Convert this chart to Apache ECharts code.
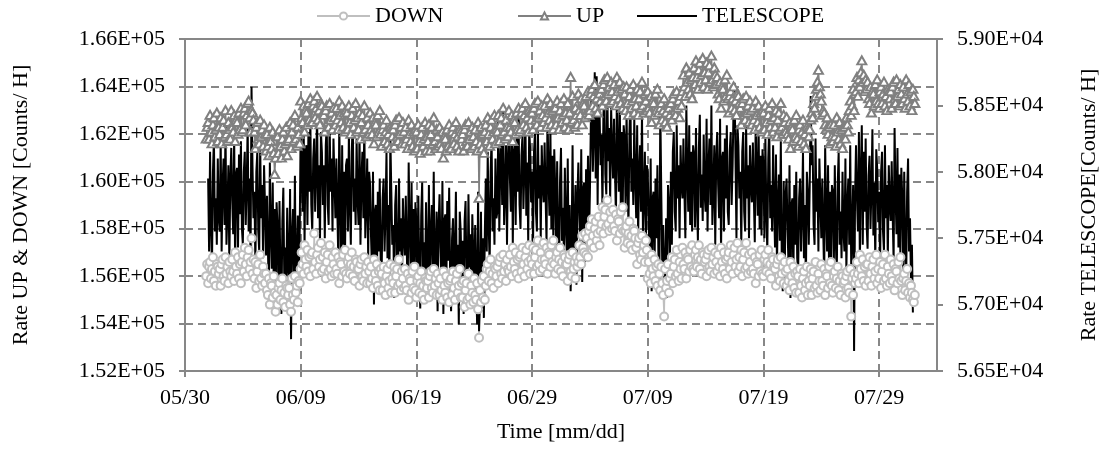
<!DOCTYPE html>
<html>
<head>
<meta charset="utf-8">
<script src="https://cdn.jsdelivr.net/npm/echarts@6/dist/echarts.min.js"></script>
<style>
  body { margin: 0; background: #fff; }
  #chart { width: 1101px; height: 450px; }
</style>
</head>
<body>
<div id="chart"></div>
<script>
// readings every 2 h, first one at 05/31 20:00 (x = days after 05/30)
const firstDay = 1 + 20 / 24;
const stepDay = 2 / 24;

// UP and DOWN in hundreds of counts/h, one row per day
const downHundreds = [
  1560, 1565,
  1557, 1564, 1566, 1559, 1563, 1568, 1558, 1562, 1556, 1565, 1564, 1561,
  1563, 1556, 1565, 1567, 1560, 1558, 1568, 1561, 1564, 1557, 1566, 1562,
  1560, 1567, 1562, 1558, 1570, 1564, 1561, 1568, 1559, 1565, 1557, 1566,
  1569, 1562, 1572, 1565, 1560, 1568, 1571, 1563, 1566, 1576, 1561, 1567,
  1559, 1566, 1555, 1562, 1565, 1558, 1569, 1559, 1556, 1564, 1561, 1557,
  1561, 1554, 1552, 1559, 1548, 1557, 1556, 1551, 1560, 1553, 1545, 1552,
  1548, 1555, 1557, 1550, 1554, 1559, 1549, 1553, 1547, 1556, 1555, 1552,
  1555, 1548, 1545, 1559, 1552, 1550, 1560, 1553, 1556, 1549, 1558, 1557,
  1563, 1570, 1565, 1561, 1573, 1567, 1564, 1571, 1562, 1568, 1560, 1569,
  1570, 1563, 1578, 1566, 1561, 1569, 1572, 1564, 1567, 1574, 1562, 1568,
  1563, 1570, 1559, 1566, 1569, 1562, 1573, 1563, 1560, 1568, 1565, 1561,
  1570, 1563, 1561, 1568, 1557, 1566, 1565, 1560, 1569, 1562, 1571, 1561,
  1559, 1566, 1568, 1561, 1565, 1570, 1560, 1564, 1558, 1567, 1566, 1563,
  1563, 1556, 1565, 1567, 1560, 1558, 1568, 1561, 1564, 1557, 1566, 1562,
  1557, 1564, 1559, 1555, 1567, 1561, 1558, 1565, 1556, 1562, 1554, 1563,
  1561, 1554, 1564, 1557, 1552, 1560, 1563, 1555, 1558, 1565, 1553, 1559,
  1557, 1564, 1553, 1560, 1563, 1556, 1567, 1557, 1554, 1562, 1559, 1555,
  1563, 1556, 1554, 1561, 1550, 1559, 1558, 1553, 1562, 1555, 1564, 1554,
  1551, 1558, 1560, 1553, 1557, 1562, 1552, 1556, 1550, 1559, 1558, 1555,
  1558, 1551, 1560, 1562, 1555, 1553, 1563, 1556, 1559, 1552, 1561, 1557,
  1552, 1559, 1554, 1550, 1562, 1556, 1553, 1560, 1551, 1557, 1549, 1558,
  1559, 1552, 1562, 1555, 1550, 1558, 1561, 1553, 1556, 1563, 1551, 1557,
  1551, 1558, 1547, 1554, 1557, 1550, 1561, 1551, 1548, 1556, 1553, 1549,
  1559, 1552, 1550, 1557, 1546, 1534, 1554, 1549, 1558, 1551, 1560, 1550,
  1556, 1563, 1565, 1558, 1562, 1567, 1557, 1561, 1555, 1564, 1563, 1560,
  1564, 1557, 1566, 1568, 1561, 1559, 1569, 1562, 1565, 1558, 1567, 1563,
  1562, 1569, 1564, 1560, 1572, 1566, 1563, 1570, 1561, 1567, 1559, 1568,
  1569, 1562, 1572, 1565, 1560, 1568, 1571, 1563, 1566, 1573, 1561, 1567,
  1565, 1572, 1561, 1568, 1571, 1564, 1575, 1565, 1562, 1570, 1567, 1563,
  1574, 1567, 1565, 1572, 1561, 1570, 1569, 1564, 1573, 1566, 1575, 1565,
  1561, 1568, 1570, 1563, 1567, 1572, 1562, 1566, 1560, 1569, 1568, 1565,
  1565, 1558, 1567, 1569, 1562, 1560, 1570, 1563, 1566, 1559, 1568, 1564,
  1566, 1573, 1568, 1565, 1577, 1572, 1570, 1578, 1569, 1576, 1568, 1579,
  1581, 1574, 1584, 1577, 1572, 1580, 1583, 1575, 1578, 1585, 1573, 1579,
  1582, 1589, 1578, 1585, 1588, 1581, 1592, 1582, 1579, 1587, 1584, 1580,
  1588, 1581, 1579, 1586, 1575, 1584, 1583, 1578, 1587, 1580, 1589, 1579,
  1572, 1579, 1581, 1574, 1578, 1583, 1573, 1577, 1571, 1580, 1579, 1576,
  1572, 1565, 1574, 1576, 1569, 1567, 1577, 1570, 1573, 1566, 1575, 1571,
  1559, 1566, 1561, 1557, 1569, 1563, 1560, 1567, 1558, 1564, 1556, 1565,
  1561, 1554, 1564, 1557, 1552, 1543, 1563, 1555, 1558, 1565, 1553, 1559,
  1561, 1568, 1557, 1564, 1567, 1560, 1571, 1561, 1558, 1566, 1563, 1559,
  1572, 1565, 1563, 1570, 1559, 1568, 1567, 1562, 1571, 1564, 1573, 1563,
  1562, 1569, 1571, 1564, 1568, 1573, 1563, 1567, 1561, 1570, 1569, 1566,
  1567, 1560, 1569, 1571, 1564, 1562, 1572, 1565, 1568, 1561, 1570, 1566,
  1562, 1569, 1564, 1560, 1572, 1566, 1563, 1570, 1561, 1567, 1559, 1568,
  1570, 1563, 1573, 1566, 1561, 1569, 1572, 1564, 1567, 1574, 1562, 1568,
  1564, 1571, 1560, 1567, 1570, 1563, 1574, 1564, 1561, 1569, 1566, 1562,
  1570, 1563, 1561, 1568, 1557, 1566, 1565, 1560, 1569, 1562, 1571, 1561,
  1560, 1567, 1569, 1562, 1566, 1571, 1561, 1565, 1559, 1568, 1567, 1564,
  1563, 1556, 1565, 1567, 1560, 1558, 1568, 1561, 1564, 1557, 1566, 1562,
  1556, 1563, 1558, 1554, 1566, 1560, 1557, 1564, 1555, 1561, 1553, 1562,
  1560, 1553, 1563, 1556, 1551, 1559, 1562, 1554, 1557, 1564, 1552, 1558,
  1556, 1563, 1552, 1559, 1562, 1555, 1566, 1556, 1553, 1561, 1558, 1554,
  1565, 1558, 1556, 1563, 1552, 1561, 1560, 1555, 1564, 1557, 1566, 1556,
  1553, 1560, 1562, 1555, 1559, 1564, 1554, 1558, 1552, 1561, 1560, 1557,
  1558, 1551, 1560, 1562, 1555, 1553, 1563, 1543, 1559, 1552, 1561, 1557,
  1559, 1566, 1561, 1557, 1569, 1563, 1560, 1567, 1558, 1564, 1556, 1565,
  1565, 1558, 1568, 1561, 1556, 1564, 1567, 1559, 1562, 1569, 1557, 1563,
  1559, 1566, 1555, 1562, 1565, 1558, 1569, 1559, 1556, 1564, 1561, 1557,
  1567, 1560, 1558, 1565, 1554, 1563, 1562, 1557, 1566, 1559, 1568, 1558,
  1552, 1559, 1561, 1554, 1558, 1563, 1553, 1557, 1551, 1556, 1553, 1550,
  1549, 1552
];

const upHundreds = [
  1618, 1623,
  1625, 1618, 1628, 1621, 1616, 1624, 1627, 1619, 1622, 1629, 1617, 1623,
  1620, 1627, 1616, 1623, 1626, 1619, 1630, 1620, 1617, 1625, 1622, 1618,
  1630, 1623, 1621, 1628, 1617, 1626, 1625, 1620, 1629, 1622, 1631, 1621,
  1622, 1629, 1631, 1624, 1628, 1633, 1634, 1627, 1621, 1630, 1629, 1626,
  1621, 1614, 1623, 1625, 1618, 1616, 1626, 1619, 1622, 1615, 1624, 1620,
  1613, 1620, 1615, 1611, 1623, 1617, 1614, 1621, 1612, 1603, 1610, 1619,
  1619, 1612, 1622, 1615, 1610, 1618, 1621, 1613, 1616, 1623, 1611, 1617,
  1618, 1625, 1614, 1621, 1624, 1617, 1628, 1618, 1615, 1623, 1620, 1616,
  1634, 1627, 1625, 1632, 1621, 1630, 1629, 1624, 1633, 1626, 1635, 1625,
  1625, 1632, 1634, 1627, 1631, 1636, 1626, 1630, 1624, 1633, 1632, 1629,
  1628, 1621, 1630, 1632, 1625, 1623, 1633, 1626, 1629, 1622, 1631, 1627,
  1624, 1631, 1626, 1622, 1634, 1628, 1625, 1632, 1623, 1629, 1621, 1630,
  1629, 1622, 1632, 1625, 1620, 1628, 1631, 1623, 1626, 1633, 1621, 1627,
  1622, 1629, 1618, 1625, 1628, 1621, 1632, 1622, 1619, 1627, 1624, 1620,
  1629, 1622, 1620, 1627, 1616, 1625, 1624, 1619, 1628, 1621, 1630, 1620,
  1615, 1622, 1624, 1617, 1621, 1626, 1616, 1620, 1614, 1623, 1622, 1619,
  1622, 1615, 1624, 1626, 1619, 1617, 1627, 1620, 1623, 1616, 1625, 1621,
  1616, 1623, 1618, 1614, 1626, 1620, 1617, 1624, 1615, 1621, 1613, 1622,
  1621, 1614, 1624, 1617, 1612, 1620, 1623, 1615, 1618, 1625, 1613, 1619,
  1617, 1624, 1613, 1620, 1623, 1616, 1627, 1617, 1614, 1622, 1619, 1615,
  1623, 1616, 1614, 1621, 1610, 1619, 1618, 1613, 1622, 1615, 1624, 1614,
  1614, 1621, 1623, 1616, 1620, 1625, 1615, 1619, 1613, 1622, 1621, 1618,
  1620, 1613, 1622, 1624, 1617, 1615, 1625, 1618, 1621, 1614, 1623, 1619,
  1615, 1622, 1617, 1613, 1625, 1593, 1616, 1623, 1614, 1620, 1612, 1621,
  1624, 1617, 1627, 1620, 1615, 1623, 1626, 1618, 1621, 1628, 1616, 1622,
  1621, 1628, 1617, 1624, 1627, 1620, 1631, 1621, 1618, 1626, 1623, 1619,
  1630, 1623, 1621, 1628, 1617, 1626, 1625, 1620, 1629, 1622, 1631, 1621,
  1622, 1629, 1631, 1624, 1628, 1633, 1623, 1627, 1621, 1630, 1629, 1626,
  1629, 1622, 1631, 1633, 1626, 1624, 1634, 1627, 1630, 1623, 1632, 1628,
  1625, 1632, 1627, 1623, 1635, 1629, 1626, 1633, 1624, 1630, 1622, 1631,
  1631, 1624, 1634, 1627, 1622, 1630, 1633, 1625, 1628, 1635, 1623, 1629,
  1626, 1633, 1622, 1629, 1644, 1625, 1636, 1626, 1623, 1631, 1628, 1624,
  1637, 1630, 1628, 1635, 1624, 1633, 1632, 1627, 1636, 1629, 1638, 1628,
  1630, 1637, 1639, 1632, 1636, 1641, 1631, 1635, 1629, 1638, 1637, 1634,
  1639, 1632, 1641, 1643, 1636, 1634, 1644, 1637, 1640, 1633, 1642, 1638,
  1634, 1641, 1636, 1632, 1644, 1638, 1635, 1642, 1633, 1639, 1631, 1640,
  1637, 1630, 1640, 1633, 1628, 1636, 1639, 1631, 1634, 1641, 1629, 1635,
  1632, 1639, 1628, 1635, 1638, 1631, 1642, 1632, 1629, 1637, 1634, 1630,
  1638, 1631, 1629, 1636, 1625, 1634, 1633, 1628, 1637, 1630, 1639, 1629,
  1624, 1631, 1633, 1626, 1630, 1635, 1625, 1629, 1623, 1632, 1631, 1628,
  1633, 1626, 1635, 1637, 1630, 1628, 1638, 1631, 1634, 1627, 1636, 1632,
  1638, 1645, 1640, 1636, 1648, 1642, 1639, 1646, 1637, 1643, 1635, 1644,
  1648, 1641, 1651, 1644, 1639, 1647, 1650, 1642, 1645, 1652, 1640, 1646,
  1643, 1650, 1639, 1646, 1649, 1642, 1653, 1643, 1640, 1648, 1645, 1641,
  1644, 1637, 1635, 1642, 1631, 1640, 1639, 1634, 1643, 1636, 1645, 1635,
  1629, 1636, 1638, 1631, 1635, 1640, 1630, 1634, 1628, 1637, 1636, 1633,
  1631, 1624, 1633, 1635, 1628, 1626, 1636, 1629, 1632, 1625, 1634, 1630,
  1624, 1631, 1626, 1622, 1634, 1628, 1625, 1632, 1623, 1629, 1621, 1630,
  1629, 1622, 1632, 1625, 1620, 1628, 1631, 1623, 1626, 1633, 1621, 1627,
  1623, 1630, 1619, 1626, 1629, 1622, 1633, 1623, 1620, 1628, 1625, 1621,
  1627, 1620, 1618, 1625, 1614, 1623, 1622, 1617, 1626, 1619, 1628, 1618,
  1615, 1622, 1624, 1617, 1621, 1626, 1616, 1620, 1614, 1623, 1622, 1619,
  1622, 1626, 1629, 1627, 1633, 1631, 1636, 1639, 1642, 1647, 1640, 1637,
  1634, 1628, 1630, 1629, 1624, 1622, 1627, 1620, 1623, 1616, 1624, 1619,
  1617, 1624, 1619, 1615, 1627, 1621, 1618, 1625, 1616, 1622, 1614, 1623,
  1623, 1618, 1627, 1624, 1621, 1630, 1634, 1628, 1632, 1639, 1630, 1637,
  1638, 1644, 1636, 1643, 1640, 1646, 1651, 1642, 1645, 1638, 1643, 1639,
  1642, 1635, 1633, 1640, 1629, 1638, 1637, 1632, 1641, 1634, 1643, 1633,
  1631, 1638, 1640, 1633, 1637, 1642, 1632, 1636, 1630, 1639, 1638, 1635,
  1638, 1631, 1640, 1642, 1635, 1633, 1643, 1636, 1639, 1632, 1641, 1637,
  1633, 1640, 1635, 1631, 1643, 1637, 1634, 1641, 1632, 1638, 1630, 1639,
  1636, 1633
];

// TELESCOPE in tens of counts/h
const telescopeTens = [
  null, null,
  5795, 5740, 5815, 5760, 5730, 5800, 5825, 5755, 5780, 5745, 5810, 5765,
  5755, 5825, 5740, 5790, 5810, 5760, 5835, 5745, 5770, 5805, 5730, 5795,
  5818, 5778, 5753, 5828, 5728, 5798, 5803, 5743, 5813, 5768, 5823, 5758,
  5745, 5800, 5815, 5760, 5790, 5835, 5755, 5795, 5735, 5864, 5805, 5765,
  5785, 5730, 5800, 5815, 5755, 5740, 5820, 5765, 5790, 5735, 5805, 5775,
  5737, 5782, 5742, 5707, 5807, 5757, 5727, 5792, 5717, 5772, 5697, 5777,
  5758, 5703, 5778, 5723, 5693, 5763, 5788, 5718, 5743, 5708, 5773, 5728,
  5717, 5787, 5674, 5752, 5772, 5722, 5797, 5707, 5732, 5767, 5712, 5757,
  5835, 5795, 5770, 5845, 5745, 5815, 5820, 5760, 5830, 5785, 5840, 5775,
  5755, 5810, 5825, 5770, 5800, 5845, 5765, 5805, 5745, 5830, 5815, 5775,
  5805, 5750, 5820, 5835, 5775, 5760, 5840, 5785, 5810, 5755, 5825, 5795,
  5765, 5810, 5770, 5735, 5835, 5785, 5713, 5820, 5745, 5800, 5740, 5805,
  5810, 5755, 5830, 5775, 5745, 5815, 5840, 5770, 5795, 5760, 5825, 5780,
  5760, 5830, 5745, 5795, 5815, 5765, 5840, 5750, 5775, 5810, 5735, 5800,
  5790, 5750, 5725, 5800, 5700, 5770, 5775, 5715, 5785, 5740, 5795, 5730,
  5725, 5780, 5795, 5740, 5770, 5815, 5735, 5775, 5715, 5827, 5785, 5745,
  5760, 5705, 5775, 5790, 5730, 5715, 5795, 5740, 5765, 5710, 5780, 5750,
  5737, 5782, 5742, 5707, 5807, 5757, 5727, 5792, 5717, 5772, 5712, 5777,
  5762, 5707, 5782, 5727, 5697, 5767, 5792, 5722, 5747, 5712, 5777, 5732,
  5720, 5790, 5705, 5755, 5775, 5725, 5800, 5710, 5735, 5770, 5695, 5760,
  5783, 5743, 5718, 5793, 5693, 5763, 5768, 5708, 5778, 5733, 5788, 5723,
  5695, 5750, 5765, 5710, 5740, 5785, 5705, 5745, 5685, 5770, 5755, 5715,
  5748, 5693, 5763, 5778, 5718, 5703, 5783, 5728, 5753, 5698, 5768, 5738,
  5715, 5760, 5720, 5685, 5785, 5680, 5705, 5770, 5695, 5750, 5690, 5755,
  5795, 5740, 5815, 5760, 5730, 5800, 5825, 5755, 5780, 5745, 5810, 5765,
  5770, 5840, 5755, 5805, 5825, 5775, 5850, 5760, 5785, 5820, 5745, 5810,
  5835, 5795, 5770, 5845, 5745, 5815, 5820, 5760, 5830, 5785, 5840, 5775,
  5757, 5812, 5827, 5772, 5802, 5847, 5767, 5807, 5747, 5832, 5817, 5777,
  5800, 5745, 5815, 5830, 5770, 5755, 5835, 5780, 5805, 5750, 5820, 5790,
  5777, 5822, 5782, 5747, 5847, 5797, 5767, 5832, 5757, 5812, 5752, 5817,
  5788, 5733, 5808, 5753, 5723, 5793, 5818, 5748, 5773, 5738, 5803, 5758,
  5740, 5810, 5725, 5775, 5710, 5745, 5820, 5730, 5755, 5790, 5715, 5780,
  5807, 5767, 5742, 5817, 5717, 5787, 5792, 5732, 5802, 5757, 5812, 5747,
  5785, 5840, 5855, 5800, 5830, 5875, 5795, 5872, 5775, 5860, 5845, 5805,
  5828, 5773, 5843, 5858, 5798, 5783, 5863, 5808, 5833, 5778, 5848, 5818,
  5795, 5840, 5800, 5765, 5865, 5815, 5785, 5850, 5775, 5830, 5770, 5835,
  5825, 5770, 5845, 5790, 5760, 5830, 5855, 5785, 5810, 5775, 5840, 5795,
  5765, 5835, 5750, 5800, 5820, 5770, 5845, 5755, 5780, 5815, 5740, 5805,
  5800, 5760, 5735, 5810, 5710, 5780, 5785, 5725, 5795, 5750, 5805, 5740,
  5715, 5850, 5785, 5730, 5760, 5710, 5725, 5765, 5705, 5790, 5775, 5735,
  5800, 5745, 5815, 5830, 5770, 5755, 5835, 5780, 5805, 5750, 5820, 5790,
  5780, 5825, 5785, 5750, 5850, 5800, 5770, 5835, 5760, 5815, 5755, 5820,
  5813, 5758, 5833, 5778, 5748, 5818, 5843, 5773, 5798, 5763, 5828, 5783,
  5770, 5840, 5755, 5805, 5825, 5775, 5850, 5760, 5785, 5820, 5745, 5810,
  5830, 5790, 5765, 5840, 5740, 5810, 5815, 5755, 5825, 5780, 5835, 5770,
  5760, 5815, 5830, 5775, 5805, 5850, 5867, 5810, 5750, 5835, 5820, 5780,
  5800, 5745, 5815, 5830, 5770, 5755, 5835, 5780, 5805, 5750, 5820, 5790,
  5777, 5822, 5782, 5747, 5847, 5797, 5767, 5832, 5757, 5812, 5752, 5817,
  5805, 5750, 5825, 5770, 5740, 5810, 5835, 5765, 5790, 5755, 5820, 5775,
  5743, 5813, 5728, 5778, 5798, 5748, 5823, 5733, 5710, 5793, 5718, 5783,
  5795, 5755, 5730, 5805, 5705, 5775, 5780, 5720, 5790, 5745, 5800, 5735,
  5725, 5780, 5795, 5740, 5770, 5815, 5735, 5775, 5715, 5800, 5785, 5745,
  5790, 5857, 5805, 5820, 5760, 5745, 5825, 5770, 5795, 5740, 5810, 5780,
  5750, 5795, 5755, 5720, 5820, 5770, 5740, 5805, 5730, 5785, 5725, 5790,
  5785, 5730, 5805, 5750, 5720, 5790, 5815, 5745, 5770, 5735, 5800, 5755,
  5740, 5810, 5725, 5775, 5795, 5745, 5820, 5730, 5755, 5790, 5665, 5780,
  5820, 5780, 5755, 5830, 5730, 5800, 5835, 5745, 5815, 5770, 5825, 5760,
  5742, 5797, 5812, 5757, 5787, 5832, 5752, 5792, 5732, 5817, 5802, 5762,
  5785, 5730, 5800, 5815, 5755, 5740, 5820, 5765, 5790, 5735, 5805, 5775,
  5763, 5808, 5768, 5733, 5833, 5783, 5753, 5818, 5743, 5798, 5738, 5803,
  5780, 5725, 5800, 5745, 5715, 5785, 5810, 5740, 5765, 5720, 5745, 5694,
  null, null
];

const xTickStep = 10;
const font = 'Liberation Serif';

function withTime(values) {
  return values.map((v, i) => [firstDay + i * stepDay, v]);
}

function dayLabel(d) {
  const dt = new Date(2015, 4, 30 + d);
  const mm = String(dt.getMonth() + 1).padStart(2, '0');
  const dd = String(dt.getDate()).padStart(2, '0');
  return mm + '/' + dd;
}

const axisGray = '#878787';
const txt = { fontFamily: font, fontSize: 22, color: '#000' };

let myChart = echarts.init(document.getElementById('chart'));
myChart.setOption({
  animation: false,
  textStyle: { fontFamily: font },
  legend: [
    { data: ['DOWN'], left: 316, top: 5, padding: 0, itemWidth: 53, itemHeight: 9, textStyle: txt },
    { data: ['UP'], left: 517, top: 5, padding: 0, itemWidth: 53, itemHeight: 9, textStyle: txt },
    { data: [{ name: 'TELESCOPE', icon: 'rect' }], left: 637, top: 5, padding: 0, itemWidth: 60, itemHeight: 2, textStyle: txt }
  ],
  grid: {
    left: 185, right: 164, top: 39, bottom: 79,
    outerBoundsMode: 'none',
    show: true, borderColor: axisGray, borderWidth: 2
  },
  xAxis: {
    type: 'value',
    min: 0,
    max: 65,
    interval: xTickStep,
    name: 'Time [mm/dd]',
    nameLocation: 'middle',
    nameGap: 50,
    nameTextStyle: txt,
    axisLine: { lineStyle: { color: axisGray, width: 2 } },
    axisTick: { length: 6, lineStyle: { color: axisGray, width: 2 } },
    axisLabel: { ...txt, margin: 16, showMaxLabel: false, formatter: dayLabel },
    splitLine: { lineStyle: { color: axisGray, width: 2, type: [8, 5] } }
  },
  yAxis: [
    {
      type: 'value',
      min: 1520,
      max: 1660,
      interval: 20,
      name: 'Rate UP & DOWN [Counts/ H]',
      nameLocation: 'middle',
      nameRotate: 90,
      nameGap: 153,
      nameTextStyle: txt,
      axisLine: { show: true, lineStyle: { color: axisGray, width: 2 } },
      axisTick: { show: true, length: 6, lineStyle: { color: axisGray, width: 2 } },
      axisLabel: { ...txt, margin: 20, formatter: v => (v / 1000).toFixed(2) + 'E+05' },
      splitLine: { lineStyle: { color: axisGray, width: 2, type: [8, 5] } }
    },
    {
      type: 'value',
      min: 5650,
      max: 5900,
      interval: 50,
      name: 'Rate TELESCOPE[Counts/ H]',
      nameLocation: 'middle',
      nameRotate: 90,
      nameGap: 141,
      nameTextStyle: txt,
      axisLine: { show: true, lineStyle: { color: axisGray, width: 2 } },
      axisTick: { show: true, length: 6, lineStyle: { color: axisGray, width: 2 } },
      axisLabel: { ...txt, margin: 20, formatter: v => (v / 1000).toFixed(2) + 'E+04' },
      splitLine: { show: false }
    }
  ],
  series: [
    {
      name: 'DOWN',
      type: 'line',
      yAxisIndex: 0,
      data: withTime(downHundreds),
      symbol: 'emptyCircle',
      symbolSize: 8,
      showAllSymbol: true,
      itemStyle: { color: '#bfbfbf', borderWidth: 1.5 },
      lineStyle: { color: '#bfbfbf', width: 1.5 }
    },
    {
      name: 'UP',
      type: 'line',
      yAxisIndex: 0,
      data: withTime(upHundreds),
      symbol: 'emptyTriangle',
      symbolSize: [9, 8],
      showAllSymbol: true,
      itemStyle: { color: '#808080', borderWidth: 1.5 },
      lineStyle: { color: '#808080', width: 1.5 }
    },
    {
      name: 'TELESCOPE',
      type: 'line',
      yAxisIndex: 1,
      data: withTime(telescopeTens),
      symbol: 'none',
      itemStyle: { color: '#000' },
      lineStyle: { color: '#000', width: 2 }
    }
  ]
});
</script>
</body>
</html>
